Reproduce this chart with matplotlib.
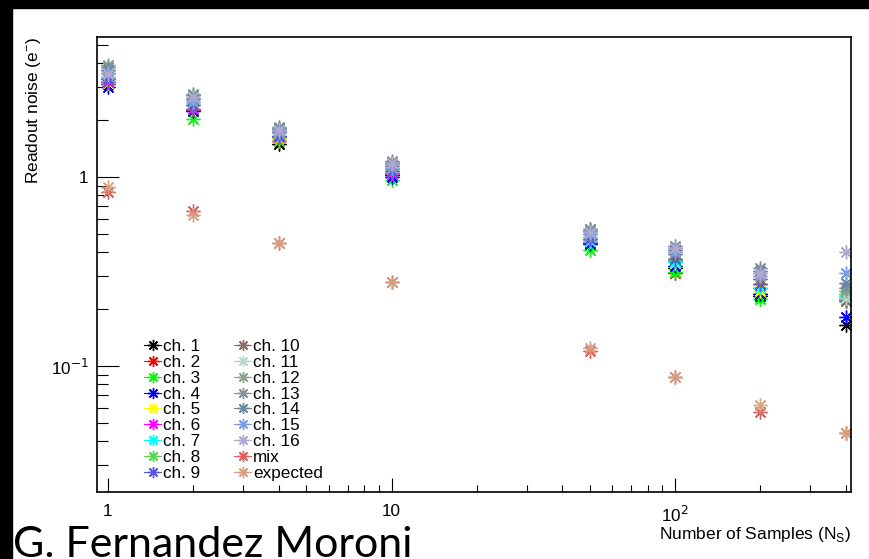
import matplotlib
matplotlib.use("Agg")
import matplotlib.pyplot as plt
from matplotlib.lines import Line2D
from matplotlib.patches import Rectangle
from matplotlib.ticker import LogLocator, NullFormatter, FixedLocator, FixedFormatter

plt.rcParams['font.family'] = ['Liberation Sans', 'DejaVu Sans']

samples = [1, 2, 4, 10, 50, 100, 200, 400]

channels = {
    "ch. 1":  [3.10, 2.25, 1.50, 1.03, 0.45, 0.330, 0.235, 0.165],
    "ch. 2":  [3.20, 2.25, 1.55, 1.04, 0.45, 0.310, 0.240, 0.230],
    "ch. 3":  [3.15, 2.02, 1.55, 0.96, 0.41, 0.315, 0.225, 0.235],
    "ch. 4":  [3.00, 2.23, 1.60, 1.00, 0.44, 0.340, 0.240, 0.182],
    "ch. 5":  [3.15, 2.30, 1.60, 1.05, 0.46, 0.350, 0.250, 0.220],
    "ch. 6":  [3.20, 2.30, 1.62, 1.05, 0.46, 0.360, 0.260, 0.225],
    "ch. 7":  [3.30, 2.40, 1.65, 1.08, 0.46, 0.355, 0.260, 0.235],
    "ch. 8":  [3.40, 2.50, 1.70, 1.10, 0.48, 0.370, 0.270, 0.240],
    "ch. 9":  [3.30, 2.40, 1.65, 1.07, 0.47, 0.370, 0.270, 0.220],
    "ch. 10": [3.70, 2.60, 1.75, 1.15, 0.50, 0.390, 0.290, 0.220],
    "ch. 11": [3.80, 2.70, 1.80, 1.20, 0.52, 0.410, 0.300, 0.230],
    "ch. 12": [3.90, 2.75, 1.85, 1.22, 0.53, 0.420, 0.310, 0.250],
    "ch. 13": [3.80, 2.70, 1.82, 1.20, 0.53, 0.430, 0.330, 0.260],
    "ch. 14": [3.70, 2.60, 1.80, 1.17, 0.52, 0.410, 0.320, 0.275],
    "ch. 15": [3.55, 2.50, 1.72, 1.12, 0.50, 0.400, 0.300, 0.310],
    "ch. 16": [3.50, 2.65, 1.78, 1.18, 0.51, 0.420, 0.310, 0.400],
}
mix = [0.83, 0.66, 0.45, 0.278, 0.120, 0.087, 0.057, 0.044]
expected = [0.88, 0.63, 0.45, 0.278, 0.124, 0.087, 0.062, 0.044]

colors = ["#000000", "#ff0000", "#00ff00", "#0000ff", "#ffff00", "#ff00ff",
          "#00ffff", "#59d454", "#5954d8", "#8b6e64", "#b3d8cc", "#88a68a",
          "#7f9498", "#6b8aa0", "#7b9ee0", "#b0a8d0"]
mix_color = "#e06060"
exp_color = "#d8a080"

xlim = (0.9146, 417.6)
ylim = (0.02154, 5.505)

fig = plt.figure(figsize=(8.7, 5.59), dpi=100)
W, H = 870, 559
ax = fig.add_axes([97 / W, 1 - 492 / H, 754 / W, 455 / H])

star = (8, 2, 0)
ms = 10
mew = 1.0
handles = []
for (name, vals), c in zip(channels.items(), colors):
    ax.plot(samples, vals, linestyle='none', marker=star, ms=ms, mew=mew,
            mec=c, mfc=c)
    handles.append(Line2D([], [], color=c, lw=0.8, marker=star, ms=8, mew=mew,
                          label=name))
ax.plot(samples, mix, linestyle='none', marker=star, ms=ms, mew=mew, mec=mix_color)
handles.append(Line2D([], [], color=mix_color, lw=0.8, marker=star, ms=8, mew=mew, label="mix"))
ax.plot(samples, expected, linestyle='none', marker=star, ms=ms, mew=mew, mec=exp_color, alpha=0.9)
handles.append(Line2D([], [], color=exp_color, lw=0.8, marker=star, ms=8, mew=mew, label="expected"))

ax.set_xscale('log')
ax.set_yscale('log')
ax.set_xlim(*xlim)
ax.set_ylim(*ylim)

ax.xaxis.set_major_locator(FixedLocator([1, 10, 100]))
ax.xaxis.set_major_formatter(FixedFormatter(["1", "10", r"10$^{2}$"]))
ax.xaxis.set_minor_locator(LogLocator(base=10, subs=range(2, 10)))
ax.xaxis.set_minor_formatter(NullFormatter())
ax.yaxis.set_major_locator(FixedLocator([0.1, 1]))
ax.yaxis.set_major_formatter(FixedFormatter([r"10$^{-1}$", "1"]))
ax.yaxis.set_minor_locator(LogLocator(base=10, subs=range(2, 10)))
ax.yaxis.set_minor_formatter(NullFormatter())

ax.tick_params(axis='x', which='major', direction='in', length=10, width=0.8,
               labelsize=12.3, pad=9, top=False)
ax.tick_params(axis='x', which='minor', direction='in', length=5, width=0.8, top=False)
ax.tick_params(axis='y', which='major', direction='in', length=16, width=0.8,
               labelsize=12.3, pad=6, right=False)
ax.tick_params(axis='y', which='minor', direction='in', length=8, width=0.8, right=False)
for s in ax.spines.values():
    s.set_linewidth(1.2)

fig.text(851 / W, 1 - 534 / H, r"Number of Samples (N$_{\mathregular{S}}$)",
         ha='right', va='center', fontsize=12.5)
fig.text(34 / W, 1 - 37 / H, r"Readout noise (e$^{\mathregular{-}}$)",
         ha='center', va='top', rotation=90, fontsize=12.5)

leg = ax.legend(handles=handles, ncol=2, loc='upper left',
                bbox_to_anchor=(144 / W, 1 - 339 / H), bbox_transform=fig.transFigure,
                frameon=False, fontsize=12.3, handlelength=1.0, handletextpad=0.1,
                columnspacing=2.0, labelspacing=0.05, borderpad=0, borderaxespad=0)

fig.text(13 / W, 1 - 557 / H, "G. Fernandez Moroni", ha='left', va='baseline',
         fontsize=31, family=['Lato', 'DejaVu Sans'])

fig.patches.append(Rectangle((0, 1 - 8 / H), 1, 8 / H, transform=fig.transFigure,
                             color='black', zorder=10))
fig.patches.append(Rectangle((0, 0), 12 / W, 1, transform=fig.transFigure,
                             color='black', zorder=10))

fig.savefig("out.png", dpi=100)
